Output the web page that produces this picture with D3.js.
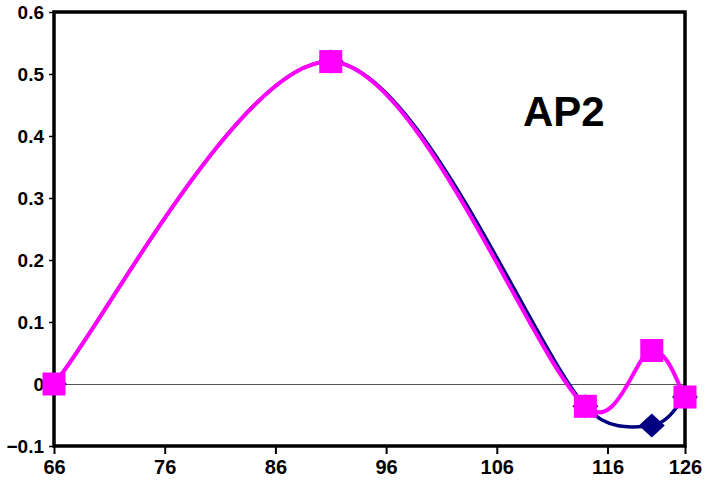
<!DOCTYPE html>
<html>
<head>
<meta charset="utf-8">
<script src="https://cdn.jsdelivr.net/npm/d3@7"></script>
<style>
  body { margin: 0; background: #fff; }
  text { font-family: "Liberation Sans", Arial, sans-serif; font-weight: bold; }
</style>
</head>
<body>
<div id="viz"></div>
<script>
// positions along the sequence (category axis)
const positions = [66, 91, 114, 120, 123]
const seriesNavy = [0, 0.52, -0.036, -0.067, -0.021]
const seriesMagenta = [0, 0.52, -0.036, 0.054, -0.021]

const xTickValues = [66, 76, 86, 96, 106, 116, 123]
const xTickLabels = ["66", "76", "86", "96", "106", "116", "126"]
const yTickValues = [-0.1, 0, 0.1, 0.2, 0.3, 0.4, 0.5, 0.6]

const width = 709
const height = 484
const plot = {left: 54, right: 685, top: 12, bottom: 446}

const svg = d3.select("#viz").append("svg").attr("width", width).attr("height", height)

const xScale = d3.scaleLinear().domain([66, 123]).range([plot.left, plot.right])
const yScale = d3.scaleLinear().domain([-0.1, 0.6]).range([plot.bottom, plot.top])

// spreadsheet-style smoothing: bezier with 1/6 tangents, capped at half the segment
function curveSmooth(context) {
    let pts
    const dist = (a, b) => Math.hypot(b[0] - a[0], b[1] - a[1])
    return {
        areaStart() {}, areaEnd() {},
        lineStart() { pts = [] },
        point(x, y) { pts.push([+x, +y]) },
        lineEnd() {
            const n = pts.length
            if (!n) return
            context.moveTo(pts[0][0], pts[0][1])
            for (let i = 0; i < n - 1; i++) {
                const p0 = pts[Math.max(i - 1, 0)], p1 = pts[i], p2 = pts[i + 1], p3 = pts[Math.min(i + 2, n - 1)]
                const d12 = dist(p1, p2), d02 = dist(p0, p2), d13 = dist(p1, p3)
                let f1 = 1 / 6, f2 = 1 / 6
                if (d02 / 6 > d12 / 2) f1 = d12 / d02 / 2
                if (d13 / 6 > d12 / 2) f2 = d12 / d13 / 2
                context.bezierCurveTo(
                    p1[0] + (p2[0] - p0[0]) * f1, p1[1] + (p2[1] - p0[1]) * f1,
                    p2[0] - (p3[0] - p1[0]) * f2, p2[1] - (p3[1] - p1[1]) * f2,
                    p2[0], p2[1])
            }
        }
    }
}

// zero line
const y0 = Math.round(yScale(0)) + 0.5
svg.append("line")
    .attr("x1", plot.left).attr("x2", plot.right)
    .attr("y1", y0).attr("y2", y0)
    .attr("stroke", "#555").attr("stroke-width", 1)

// axes
const yAxis = d3.axisLeft(yScale).tickValues(yTickValues).tickSize(5).tickPadding(5)
    .tickFormat(d => d === 0 ? "0" : d3.format(".1f")(d))
const gy = svg.append("g").attr("transform", `translate(${plot.left},0)`).call(yAxis)
gy.select(".domain").remove()
gy.selectAll("line").attr("stroke-width", 1.5)
gy.selectAll("text").style("font-size", "19px").attr("fill", "#000")

const xAxis = d3.axisBottom(xScale).tickValues(xTickValues).tickSize(8).tickPadding(6)
    .tickFormat((d, i) => xTickLabels[i])
const gx = svg.append("g").attr("transform", `translate(0,${plot.bottom})`).call(xAxis)
gx.select(".domain").remove()
gx.selectAll("line").attr("stroke-width", 2)
gx.selectAll("text").style("font-size", "20px").attr("fill", "#000")

// frame
svg.append("rect")
    .attr("x", plot.left).attr("y", plot.top)
    .attr("width", plot.right - plot.left).attr("height", plot.bottom - plot.top)
    .attr("fill", "none").attr("stroke", "#000").attr("stroke-width", 3.5)

const line = d3.line().curve(curveSmooth)
    .x(d => xScale(d[0])).y(d => yScale(d[1]))

const navyPts = positions.map((p, i) => [p, seriesNavy[i]])
const magPts = positions.map((p, i) => [p, seriesMagenta[i]])

svg.append("path").datum(navyPts).attr("d", line)
    .attr("fill", "none").attr("stroke", "#000080").attr("stroke-width", 3.5)

svg.selectAll(".diamond").data(navyPts).join("path")
    .attr("class", "diamond")
    .attr("d", "M0,-12L13,0L0,12L-13,0Z")
    .attr("transform", d => `translate(${xScale(d[0])},${yScale(d[1])})`)
    .attr("fill", "#000080")

svg.append("path").datum(magPts).attr("d", line)
    .attr("fill", "none").attr("stroke", "#ff00ff").attr("stroke-width", 4)

const sq = 23
svg.selectAll(".square").data(magPts).join("rect")
    .attr("class", "square")
    .attr("x", d => xScale(d[0]) - sq / 2).attr("y", d => yScale(d[1]) - sq / 2)
    .attr("width", sq).attr("height", sq)
    .attr("fill", "#ff00ff")

svg.append("text").attr("x", 523).attr("y", 126)
    .style("font-size", "42px").text("AP2")
</script>
</body>
</html>
